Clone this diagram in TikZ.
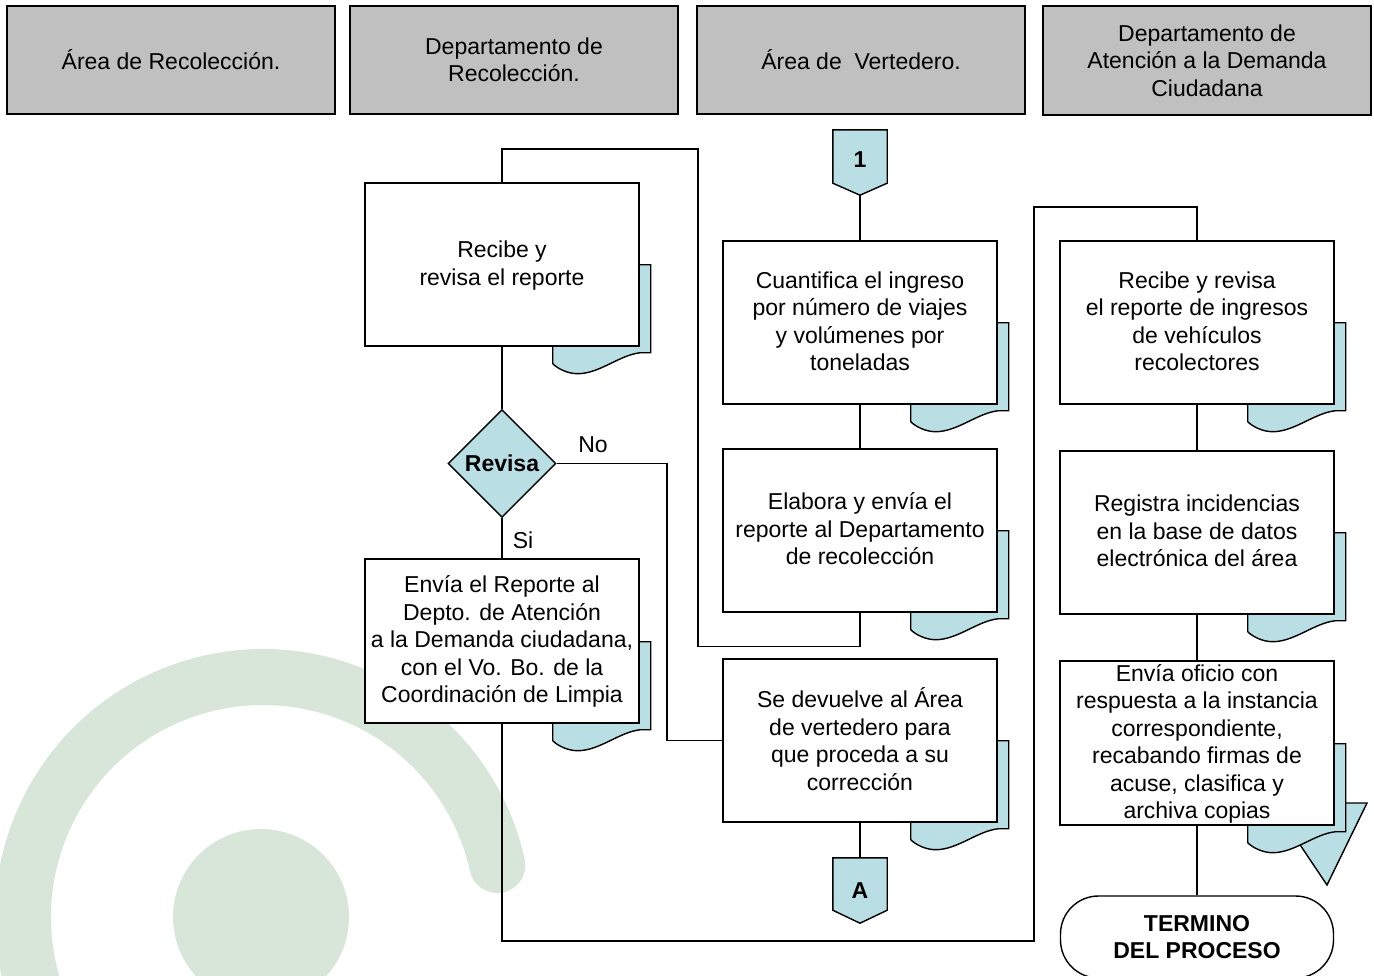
\documentclass[tikz,border=0pt]{standalone}
\usepackage{fontspec}
\setmainfont{Liberation Sans}
\usetikzlibrary{shapes.geometric,calc}
\definecolor{hdrgray}{HTML}{C0C0C0}
\definecolor{docblue}{HTML}{B9DEE4}
\definecolor{bggreen}{HTML}{D8E6D9}
\pgfdeclarelayer{bgzero}
\pgfdeclarelayer{bgone}
\pgfsetlayers{bgzero,bgone,main}
\newcommand{\dgfont}{\fontsize{23pt}{27.5pt}\selectfont}
\newcommand{\docshadow}[1]{%
  \begin{scope}[shift={(#1.south east)}]
    \draw[ln, fill=docblue] (-87,-82) -- (11,-82) -- (11,6) -- (1,6)
      .. controls (-20,8) and (-40,27) .. (-62,27)
      .. controls (-72,27) and (-82,22) .. (-87,17) -- cycle;
  \end{scope}}
\tikzset{
  ln/.style={line width=1.4pt, line join=miter},
  hdr/.style={draw, line width=1.2pt, fill=hdrgray, minimum width=328pt, minimum height=108pt,
    inner sep=0pt, align=center, font=\dgfont},
  proc/.style={draw, line width=1.4pt, fill=white, minimum width=274pt, minimum height=163pt,
    inner sep=0pt, align=center, font=\dgfont, text depth=3pt},
  offpg/.style={minimum width=54pt, minimum height=65pt, inner sep=0pt, font=\dgfont\bfseries},
  lbl/.style={inner sep=0pt, font=\dgfont}
}
\begin{document}
\begin{tikzpicture}[x=1pt,y=-1pt]
\useasboundingbox (0,0) rectangle (1374,975);
% background decoration
\begin{pgfonlayer}{bgzero}
  \begin{scope}
    \clip (0,0) rectangle (1374,975);
    \draw[bggreen, line width=56pt, line cap=round] (263,917) ++(160:240) arc[start angle=160, end angle=347.5, radius=240];
    \fill[bggreen] (261,917) circle[radius=88];
  \end{scope}
\end{pgfonlayer}

% headers
\node[hdr] (h1) at (171,60) {Área de Recolección.};
\node[hdr] (h2) at (514,60) {Departamento de\\Recolección.};
\node[hdr] (h3) at (861,60) {Área de~ Vertedero.};
\node[hdr, minimum height=109pt] (h4) at (1207,60.5) {Departamento de\\Atención a la Demanda\\Ciudadana};

% process boxes
\node[proc] (recibe) at (502,264.5) {Recibe y\\revisa el reporte};
\node[proc] (cuant) at (860,322.5) {Cuantifica el ingreso\\por número de viajes\\y volúmenes por\\toneladas};
\node[proc] (elab) at (860,530.5) {Elabora y envía el\\reporte al Departamento\\de recolección};
\node[proc] (devuelve) at (860,740.5) {Se devuelve al Área\\de vertedero para\\que proceda a su\\corrección};
\node[proc, minimum height=164pt] (envia) at (502,641) {Envía el Reporte al\\Depto. de Atención\\a la Demanda ciudadana,\\con el Vo. Bo. de la\\Coordinación de Limpia};
\node[proc] (recibe2) at (1197,322.5) {Recibe y revisa\\el reporte de ingresos\\de vehículos\\recolectores};
\node[proc] (registra) at (1197,532.5) {Registra incidencias\\en la base de datos\\electrónica del área};
\node[proc, minimum height=164pt] (oficio) at (1197,743) {Envía oficio con\\respuesta a la instancia\\correspondiente,\\recabando firmas de\\acuse, clasifica y\\archiva copias};

% decision
\node[diamond, draw, line width=1.4pt, fill=docblue, minimum width=108pt, minimum height=108pt,
  inner sep=0pt, font=\dgfont\bfseries] (dia) at (502,463.5) {Revisa};

% off-page connectors
\node[offpg, text depth=6pt] (c1) at (860,162.5) {1};
\node[offpg] (cA) at (860,890.5) {A};

% terminal
\node[draw, line width=1.4pt, fill=white, rounded corners=38pt, minimum width=273pt, minimum height=82pt,
  inner sep=0pt, align=center, font=\dgfont\bfseries] (term) at (1197,937) {TERMINO\\DEL PROCESO};

% labels
\node[lbl] (lno) at (593,445) {No};
\node[lbl] (lsi) at (523,540) {Si};

% shadows, connector shapes, triangle
\begin{pgfonlayer}{bgone}
  \draw[ln, fill=docblue] (1272,803) -- (1367,803) -- (1327,885) -- cycle;
  \docshadow{recibe}
  \docshadow{cuant}
  \docshadow{elab}
  \docshadow{devuelve}
  \docshadow{envia}
  \docshadow{recibe2}
  \docshadow{registra}
  \docshadow{oficio}
  \draw[ln, fill=docblue] (c1.north west) -- (c1.north east) -- ($(c1.south east)+(0,-12)$) -- (c1.south)
    -- ($(c1.south west)+(0,-12)$) -- cycle;
  \draw[ln, fill=docblue] (cA.north west) -- (cA.north east) -- ($(cA.south east)+(0,-13)$) -- (cA.south)
    -- ($(cA.south west)+(0,-13)$) -- cycle;
  % connectors
  \draw[ln] (c1.south) -- (cuant.north);
  \draw[ln] (cuant.south) -- (elab.north);
  \draw[ln] (elab.south) -- ++(0,34) -| (698,149) -| (recibe.north);
  \draw[ln] (recibe.south) -- (dia.north);
  \draw[ln] (dia.south) -- (envia.north);
  \draw[ln] (dia.east) -- (667,463.5) |- (devuelve.west);
  \draw[ln] (devuelve.south) -- (cA.north);
  \draw[ln] (envia.south) |- (1034,941) |- (1197,207) -- (recibe2.north);
  \draw[ln] (recibe2.south) -- (registra.north);
  \draw[ln] (registra.south) -- (oficio.north);
  \draw[ln] (oficio.south) -- (term.north);
\end{pgfonlayer}
\end{tikzpicture}
\end{document}
